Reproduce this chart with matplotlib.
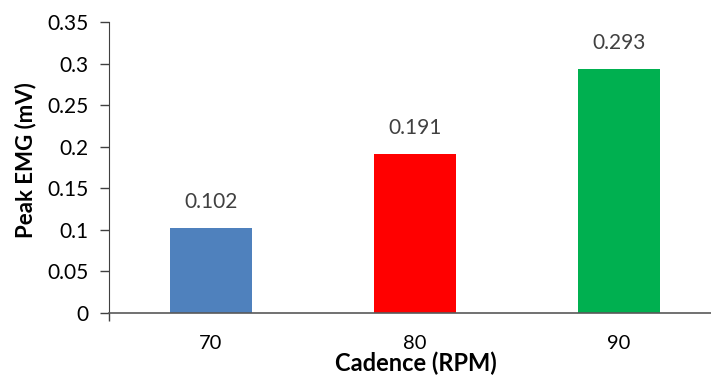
import matplotlib
matplotlib.use('Agg')
import matplotlib.pyplot as plt

# chart data
cadence = ['70', '80', '90']
peak_emg = [0.102, 0.191, 0.293]
bar_colors = ['#4F81BD', '#FF0000', '#00B050']

plt.rcParams['font.family'] = ['Lato', 'DejaVu Sans']

fig = plt.figure(figsize=(7.11, 3.76), dpi=100)
ax = fig.add_axes([109 / 711, 63 / 376, 602 / 711, 291 / 376])

x = range(len(cadence))
ax.bar(x, peak_emg, width=0.4, color=bar_colors)

# value labels above each bar
for xi, v in zip(x, peak_emg):
    ax.annotate(f'{v:.3f}', (xi, v), xytext=(0, 19), textcoords='offset points',
                ha='center', va='center', fontsize=15, color='#404040')

ax.set_xlim(-0.5, 2.45)
ax.set_ylim(0, 0.35)
ax.set_yticks([i * 0.05 for i in range(8)])
ax.set_yticklabels(['0', '0.05', '0.1', '0.15', '0.2', '0.25', '0.3', '0.35'])
ax.set_xticks(list(x))
ax.set_xticklabels(cadence)
ax.set_xticks([-0.5], minor=True)

ax.tick_params(axis='y', direction='out', length=6.5, width=1, color='#404040',
               labelsize=15, pad=8)
ax.tick_params(axis='x', which='major', length=0, labelsize=14.5, pad=16)
ax.tick_params(axis='x', which='minor', length=6, width=1, color='#404040')

for s in ['top', 'right']:
    ax.spines[s].set_visible(False)
ax.spines['left'].set_color('#404040')
ax.spines['bottom'].set_color('#595959')
ax.spines['bottom'].set_linewidth(1.2)

ax.set_xlabel('Cadence (RPM)', fontsize=17, fontweight='bold', va='center')
ax.xaxis.set_label_coords(0.51, -0.172)
ax.set_ylabel('Peak EMG (mV)', fontsize=16, fontweight='bold', va='center')
ax.yaxis.set_label_coords(-0.138, 0.526)

fig.savefig('out.png', dpi=100)
